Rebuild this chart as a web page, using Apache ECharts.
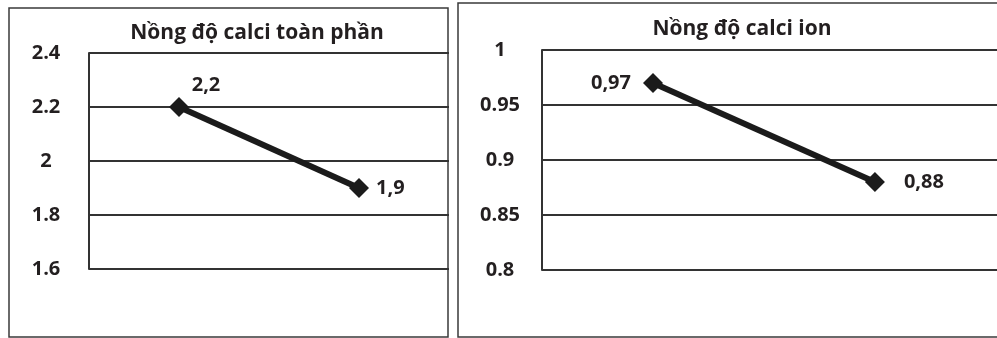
<!DOCTYPE html>
<html><head><meta charset="utf-8">
<script src="https://cdn.jsdelivr.net/npm/echarts@6/dist/echarts.min.js"></script>
<style>html,body{margin:0;padding:0;background:#fff}#c{width:997px;height:338px}</style>
</head><body><div id="c"></div>
<script>
const categories = ['1', '2'];
const totalCalcium = [2.2, 1.9];
const ionCalcium = [0.97, 0.88];
const titleLeft = 'Nồng độ calci toàn phần';
const titleRight = 'Nồng độ calci ion';

const FONT = '"Open Sans", sans-serif';
const TXT = '#231f20';
const FS = 20;
const chart = echarts.init(document.getElementById('c'), null, {renderer: 'canvas'});
const fmt = p => String(p.value[1]).replace('.', ',');

const yAxisCommon = {
  type: 'value',
  axisLine: {show: true, onZero: false, lineStyle: {color: '#333', width: 2}},
  axisTick: {show: false},
  splitLine: {lineStyle: {color: '#333', width: 2}},
  axisLabel: {align: 'center', fontFamily: FONT, fontWeight: 'bold', fontSize: FS, color: TXT}
};

chart.setOption({
  animation: false,
  title: [
    {text: titleLeft, left: 252, top: 18, textAlign: 'center',
     textStyle: {fontFamily: FONT, fontWeight: 'bold', fontSize: 21, color: TXT}},
    {text: titleRight, left: 737, top: 14, textAlign: 'center',
     textStyle: {fontFamily: FONT, fontWeight: 'bold', fontSize: 21, color: TXT}}
  ],
  graphic: [
    {type: 'rect', shape: {x: 9, y: 8, width: 439, height: 329}, style: {fill: 'none', stroke: '#3a3a3a', lineWidth: 1.5}},
    {type: 'rect', shape: {x: 458, y: 3, width: 560, height: 334}, style: {fill: 'none', stroke: '#3a3a3a', lineWidth: 1.5}}
  ],
  grid: [
    {left: 89, top: 53, width: 360, height: 216},
    {left: 542, top: 50, width: 455, height: 220}
  ],
  xAxis: [
    {gridIndex: 0, type: 'value', min: -0.5, max: 1.5, show: false},
    {gridIndex: 1, type: 'value', min: -0.5, max: 1.55, show: false}
  ],
  yAxis: [
    Object.assign({}, yAxisCommon, {gridIndex: 0, min: 1.6, max: 2.4, interval: 0.2,
      axisLabel: Object.assign({}, yAxisCommon.axisLabel, {margin: 43})}),
    Object.assign({}, yAxisCommon, {gridIndex: 1, min: 0.8, max: 1, interval: 0.05,
      axisLabel: Object.assign({}, yAxisCommon.axisLabel, {margin: 42})})
  ],
  series: [
    {type: 'line', xAxisIndex: 0, yAxisIndex: 0,
     symbol: 'diamond', symbolSize: 20,
     lineStyle: {color: '#1b1b1b', width: 6}, itemStyle: {color: '#1b1b1b'},
     label: {show: true, formatter: fmt, fontFamily: FONT, fontWeight: 'bold', fontSize: FS, color: TXT},
     data: [
       {value: [0, totalCalcium[0]], label: {position: 'top', offset: [27, 3]}},
       {value: [1, totalCalcium[1]], label: {position: 'right', distance: 7}}
     ]},
    {type: 'line', xAxisIndex: 1, yAxisIndex: 1,
     symbol: 'diamond', symbolSize: 20,
     lineStyle: {color: '#1b1b1b', width: 6}, itemStyle: {color: '#1b1b1b'},
     label: {show: true, formatter: fmt, fontFamily: FONT, fontWeight: 'bold', fontSize: FS, color: TXT},
     data: [
       {value: [0, ionCalcium[0]], label: {position: 'left', distance: 12}},
       {value: [1, ionCalcium[1]], label: {position: 'right', distance: 19}}
     ]}
  ]
});
</script></body></html>
